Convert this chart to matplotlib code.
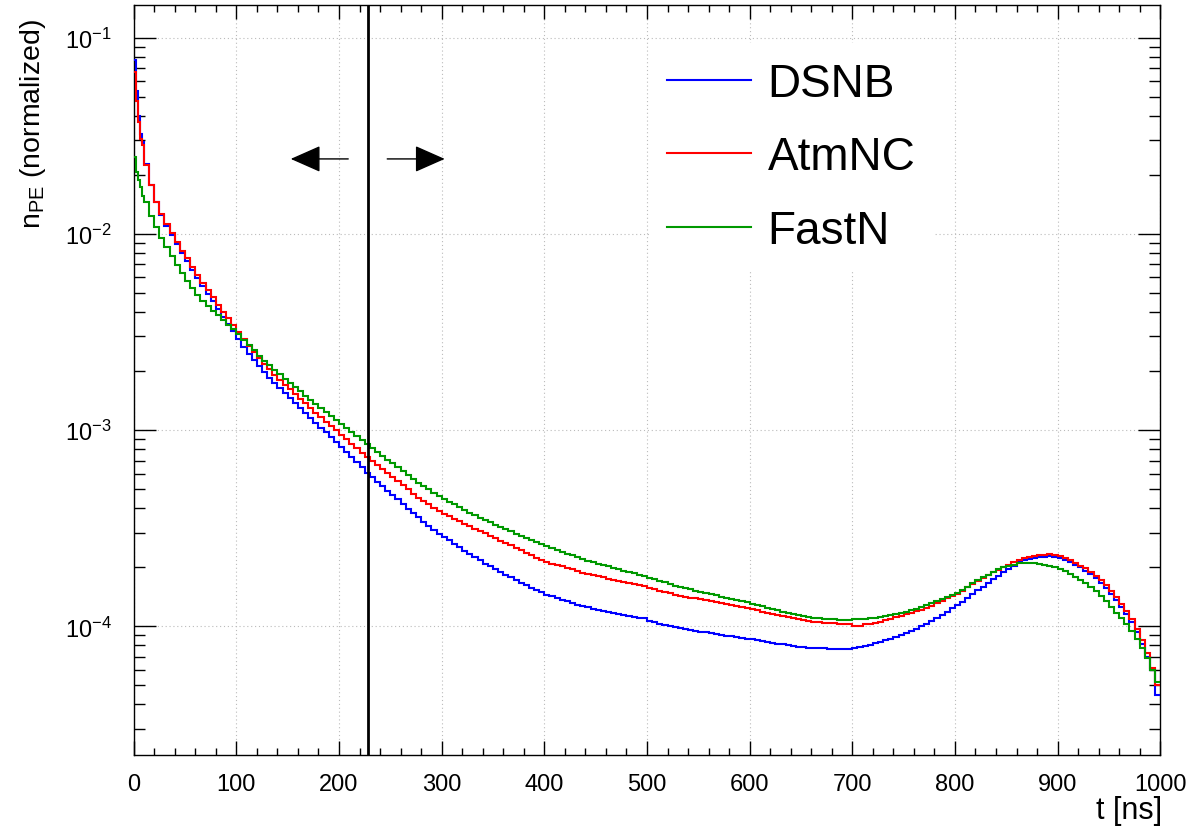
import numpy as np
import matplotlib
matplotlib.use("Agg")
import matplotlib.pyplot as plt
from matplotlib.ticker import MultipleLocator, LogLocator, NullFormatter, LogFormatterSciNotation
from matplotlib.lines import Line2D

plt.rcParams['font.family'] = ['Liberation Sans', 'DejaVu Sans']
plt.rcParams['mathtext.fontset'] = 'custom'
plt.rcParams['mathtext.rm'] = 'Liberation Sans'
plt.rcParams['mathtext.it'] = 'Liberation Sans:italic'
plt.rcParams['mathtext.default'] = 'regular'

# ---- data (bin edges in ns; bin contents as log10 values) ----
bin_edges = np.concatenate([np.arange(0, 10, 2), np.arange(10, 1001, 5)])

series_names = ["DSNB", "AtmNC", "FastN"]

dsnb_log10 = [
    -1.114, -1.273, -1.397, -1.49, -1.53,
    -1.645, -1.75, -1.84, -1.905, -1.96, -2.008, -2.052, -2.097, -2.138, -2.183,
    -2.225, -2.268, -2.305, -2.343, -2.383, -2.422, -2.458, -2.497,
    -2.537, -2.575, -2.61, -2.643, -2.675, -2.705, -2.733, -2.76, -2.786, -2.812,
    -2.837, -2.862, -2.887, -2.912, -2.937, -2.962, -2.987, -3.012, -3.037, -3.062,
    -3.087, -3.112, -3.138, -3.163, -3.19, -3.216, -3.24, -3.262, -3.285, -3.308,
    -3.33, -3.353, -3.376, -3.4, -3.422, -3.445, -3.467, -3.488, -3.508, -3.527,
    -3.545, -3.562, -3.58, -3.597, -3.614, -3.631, -3.648, -3.664, -3.68, -3.695,
    -3.71, -3.724, -3.738, -3.751, -3.764, -3.777, -3.79, -3.803, -3.815, -3.827,
    -3.838, -3.847, -3.856, -3.865, -3.873, -3.881, -3.889, -3.896, -3.903, -3.91,
    -3.916, -3.922, -3.927, -3.932, -3.937, -3.942, -3.947, -3.951, -3.955, -3.96,
    -3.972, -3.98, -3.987, -3.993, -3.999, -4.004, -4.01, -4.014, -4.017, -4.022,
    -4.027, -4.03, -4.035, -4.04, -4.043, -4.047, -4.05, -4.055, -4.058, -4.062,
    -4.066, -4.071, -4.075, -4.08, -4.084, -4.088, -4.092, -4.096, -4.1, -4.103,
    -4.106, -4.108, -4.11, -4.111, -4.112, -4.113, -4.114, -4.116, -4.115, -4.114,
    -4.112, -4.107, -4.1, -4.094, -4.087, -4.08, -4.072, -4.063, -4.053, -4.043,
    -4.033, -4.022, -4.011, -4.0, -3.987, -3.972, -3.957, -3.941, -3.925, -3.909,
    -3.893, -3.874, -3.855, -3.836, -3.816, -3.797, -3.778, -3.758, -3.741, -3.724,
    -3.707, -3.69, -3.674, -3.664, -3.656, -3.65, -3.647, -3.645, -3.644, -3.645,
    -3.65, -3.66, -3.672, -3.686, -3.7, -3.716, -3.735, -3.756, -3.78, -3.806,
    -3.836, -3.868, -3.9, -3.937, -3.98, -4.03, -4.09, -4.155, -4.22, -4.352,
]

atmnc_log10 = [
    -1.176, -1.321, -1.429, -1.515, -1.545,
    -1.65, -1.75, -1.835, -1.898, -1.952, -1.998, -2.04, -2.085, -2.125, -2.168,
    -2.208, -2.25, -2.285, -2.322, -2.36, -2.398, -2.43, -2.466,
    -2.502, -2.537, -2.57, -2.602, -2.633, -2.662, -2.69, -2.717, -2.743, -2.768,
    -2.792, -2.816, -2.84, -2.864, -2.888, -2.912, -2.935, -2.957, -2.979, -3.0,
    -3.023, -3.046, -3.069, -3.092, -3.115, -3.138, -3.159, -3.18, -3.2, -3.22,
    -3.24, -3.26, -3.28, -3.30, -3.325, -3.345, -3.36, -3.375, -3.395, -3.41,
    -3.43, -3.44, -3.455, -3.465, -3.48, -3.49, -3.503, -3.515, -3.525, -3.538,
    -3.55, -3.563, -3.575, -3.588, -3.6, -3.612, -3.625, -3.638, -3.65, -3.662,
    -3.673, -3.68, -3.688, -3.695, -3.703, -3.71, -3.718, -3.726, -3.733, -3.74,
    -3.745, -3.75, -3.757, -3.762, -3.768, -3.773, -3.78, -3.785, -3.79, -3.796,
    -3.805, -3.812, -3.82, -3.826, -3.832, -3.838, -3.843, -3.848, -3.853, -3.858,
    -3.863, -3.868, -3.873, -3.878, -3.883, -3.888, -3.893, -3.898, -3.903, -3.908,
    -3.913, -3.919, -3.925, -3.931, -3.937, -3.943, -3.948, -3.954, -3.96, -3.965,
    -3.97, -3.974, -3.978, -3.98, -3.985, -3.982, -3.985, -3.988, -3.987, -3.99,
    -3.998, -3.996, -3.99, -3.99, -3.985, -3.978, -3.97, -3.962, -3.953, -3.945,
    -3.937, -3.93, -3.922, -3.915, -3.907, -3.895, -3.883, -3.87, -3.857, -3.845,
    -3.833, -3.818, -3.8, -3.785, -3.768, -3.752, -3.738, -3.725, -3.713, -3.7,
    -3.686, -3.673, -3.662, -3.652, -3.645, -3.64, -3.636, -3.634, -3.632, -3.635,
    -3.642, -3.652, -3.664, -3.677, -3.69, -3.705, -3.722, -3.742, -3.764, -3.788,
    -3.818, -3.85, -3.884, -3.92, -3.965, -4.015, -4.07, -4.135, -4.21, -4.3,
]

fastn_log10 = [
    -1.606, -1.686, -1.723, -1.763, -1.805,
    -1.84, -1.908, -1.967, -2.02, -2.066, -2.112, -2.157, -2.2, -2.242, -2.278,
    -2.31, -2.342, -2.367, -2.393, -2.415, -2.44, -2.462, -2.485,
    -2.512, -2.54, -2.567, -2.594, -2.62, -2.646, -2.67, -2.693, -2.716, -2.738,
    -2.76, -2.782, -2.803, -2.824, -2.845, -2.866, -2.887, -2.908, -2.929, -2.95,
    -2.97, -2.99, -3.01, -3.03, -3.05, -3.07, -3.09, -3.11, -3.13, -3.15,
    -3.17, -3.19, -3.21, -3.23, -3.25, -3.268, -3.285, -3.302, -3.318, -3.334,
    -3.35, -3.364, -3.378, -3.392, -3.406, -3.42, -3.433, -3.446, -3.458, -3.47,
    -3.482, -3.494, -3.505, -3.516, -3.527, -3.538, -3.549, -3.559, -3.569, -3.579,
    -3.59, -3.6, -3.61, -3.62, -3.629, -3.638, -3.647, -3.656, -3.665, -3.673,
    -3.681, -3.688, -3.695, -3.702, -3.709, -3.716, -3.723, -3.73, -3.737, -3.744,
    -3.752, -3.76, -3.768, -3.776, -3.784, -3.792, -3.799, -3.806, -3.812, -3.818,
    -3.824, -3.83, -3.836, -3.842, -3.848, -3.854, -3.86, -3.866, -3.872, -3.878,
    -3.884, -3.89, -3.897, -3.904, -3.911, -3.918, -3.925, -3.932, -3.938, -3.944,
    -3.949, -3.953, -3.957, -3.96, -3.962, -3.964, -3.965, -3.966, -3.966, -3.966,
    -3.965, -3.964, -3.962, -3.958, -3.955, -3.951, -3.947, -3.943, -3.938, -3.932,
    -3.925, -3.918, -3.91, -3.902, -3.893, -3.882, -3.872, -3.861, -3.85, -3.839,
    -3.828, -3.813, -3.797, -3.781, -3.765, -3.75, -3.736, -3.722, -3.71, -3.7,
    -3.692, -3.685, -3.679, -3.676, -3.675, -3.677, -3.681, -3.686, -3.692, -3.699,
    -3.707, -3.718, -3.731, -3.746, -3.762, -3.78, -3.8, -3.822, -3.846, -3.872,
    -3.9, -3.93, -3.96, -3.99, -4.025, -4.065, -4.11, -4.16, -4.22, -4.284,
]

cut_time = 228.0            # ns, vertical cut line
arrow_left = (209.0, 153.0)  # tail, tip (ns)
arrow_right = (247.0, 303.0)
arrow_level = 0.0241

colors = ["#0000ff", "#ff0000", "#009900"]

# ---- figure ----
fig = plt.figure(figsize=(11.87, 8.28), dpi=100)
ax = fig.add_axes([0.1126, 0.08696, 0.8649, 0.9058])

for vals, col in zip([dsnb_log10, atmnc_log10, fastn_log10], colors):
    ax.stairs(10.0 ** np.asarray(vals), bin_edges, color=col, lw=1.5, baseline=None, zorder=3)

ax.set_yscale('log')
ax.set_xlim(0, 1000)
ax.set_ylim(2.21e-5, 0.1467)

ax.axvline(cut_time, color='black', lw=2.0, zorder=4)

for tail, tip in (arrow_left, arrow_right):
    ax.annotate('', xy=(tip, arrow_level), xytext=(tail, arrow_level),
                arrowprops=dict(arrowstyle='-|>,head_length=0.95,head_width=0.42',
                                mutation_scale=20, color='black', lw=1.0,
                                shrinkA=0, shrinkB=0), zorder=5)

# ticks
ax.xaxis.set_major_locator(MultipleLocator(100))
ax.xaxis.set_minor_locator(MultipleLocator(20))
ax.yaxis.set_major_locator(LogLocator(base=10, numticks=20))
ax.yaxis.set_minor_locator(LogLocator(base=10, subs=np.arange(2, 10), numticks=50))
ax.yaxis.set_major_formatter(LogFormatterSciNotation())
ax.yaxis.set_minor_formatter(NullFormatter())

ax.tick_params(which='both', direction='in', top=True, right=True, labelsize=17,
               color='black', width=1.0)
ax.tick_params(axis='x', which='major', length=10, pad=13)
ax.tick_params(axis='x', which='minor', length=5)
ax.tick_params(axis='y', which='major', length=15.6, pad=16)
ax.tick_params(axis='y', which='minor', length=7.9)

for sp in ax.spines.values():
    sp.set_linewidth(1.0)

ax.grid(True, which='major', ls=(0, (1, 2.5)), color='#bbbbbb', lw=0.8)
ax.set_axisbelow(True)

# labels
ax.set_xlabel('t [ns]', fontsize=22, loc='right')
ax.xaxis.set_label_coords(1.0016, -0.053)
ax.set_ylabel(r'n$_{\mathregular{PE}}$ (normalized)', fontsize=20.5, loc='top')
ax.yaxis.set_label_coords(-0.0835, 0.983)

handles = [Line2D([], [], color=c, lw=1.5) for c in colors]
leg = ax.legend(handles, series_names, loc='upper left', bbox_to_anchor=(0.502, 0.949),
                fontsize=33, frameon=True, fancybox=False, framealpha=1.0,
                facecolor='white', edgecolor='none', borderpad=0.4, labelspacing=0.65,
                handlelength=1.82, handletextpad=0.37, borderaxespad=0.0)
leg.set_zorder(6)

fig.savefig('out.png', dpi=100)
